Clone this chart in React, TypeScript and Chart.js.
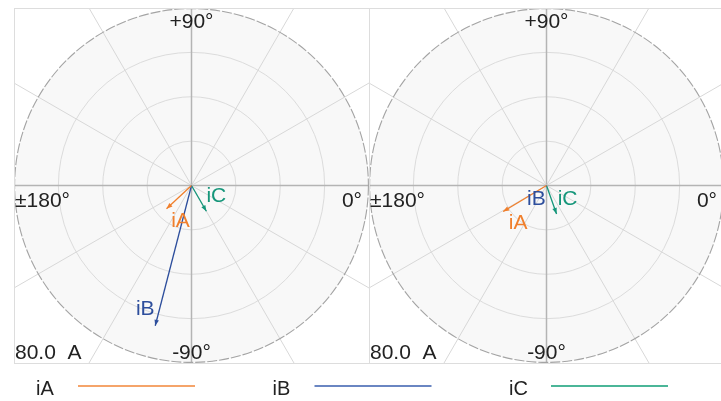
import React, { useEffect, useRef } from 'react';
import { Chart, registerables } from 'chart.js';

Chart.register(...registerables);

// ---- data ----
const phases = ['iA', 'iB', 'iC'];
const leftMagnitudes = [15.4, 65.3, 13.4];
const leftAngles = [-137, -104.5, -60];
const rightMagnitudes = [22.8, 0.4, 13.6];
const rightAngles = [-149, -100, -70.5];
const ringValues = [20, 40, 60, 80];
const spokeAngles = [0, 30, 60, 90, 120, 150, 180, 210, 240, 270, 300, 330];
const angleTickLabels = ['0°', '+90°', '±180°', '-90°'];
const rangeLabel = '80.0  A';
const vectorColors = ['#f07f2c', '#2d4e9c', '#15967a'];
const legendColors = ['#f5a46a', '#6a86c2', '#4bb698'];

const W = 721;
const H = 401;
const PAD_L = 14;
const PAD_T = 8;
const PAD_B = 38;
const MAX_R = ringValues[ringValues.length - 1];
const PLOT_OFFSETS = [0, 2 * MAX_R];
const FONT = "'Liberation Sans', Arial, sans-serif";

// label nudges (pixels) relative to each vector tip: [plot][phase]
const labelNudges = [
  [[14, 12], [-10, -17], [10, -15]],
  [[15, 12], [-10, 13], [11, -15]],
];

const plots = [
  { mags: leftMagnitudes, angs: leftAngles },
  { mags: rightMagnitudes, angs: rightAngles },
];

const rad = (d: number) => (d * Math.PI) / 180;

const phasorPlugin = {
  id: 'phasorGrid',
  beforeDatasetsDraw(chart: any) {
    const { ctx } = chart;
    const xs = chart.scales.x;
    const ys = chart.scales.y;
    PLOT_OFFSETS.forEach((off) => {
      const cx = xs.getPixelForValue(off);
      const cy = ys.getPixelForValue(0);
      const R = ys.getPixelForValue(0) - ys.getPixelForValue(MAX_R);
      ctx.save();
      ctx.beginPath();
      ctx.rect(cx - R, cy - R, 2 * R, 2 * R);
      ctx.clip();
      // background disc
      ctx.beginPath();
      ctx.arc(cx, cy, R, 0, Math.PI * 2);
      ctx.fillStyle = '#f8f8f8';
      ctx.fill();
      // rings
      ctx.strokeStyle = '#dcdcdc';
      ctx.lineWidth = 1;
      ringValues.slice(0, -1).forEach((v) => {
        const r = ys.getPixelForValue(0) - ys.getPixelForValue(v);
        ctx.beginPath();
        ctx.arc(cx, cy, r, 0, Math.PI * 2);
        ctx.stroke();
      });
      // spokes
      spokeAngles.forEach((a) => {
        const isAxis = a % 90 === 0;
        ctx.strokeStyle = isAxis ? '#b4b4b4' : '#d8d8d8';
        ctx.lineWidth = isAxis ? 1.5 : 1;
        ctx.beginPath();
        ctx.moveTo(cx, cy);
        ctx.lineTo(cx + Math.cos(rad(a)) * R * 2, cy - Math.sin(rad(a)) * R * 2);
        ctx.stroke();
      });
      // outer circle
      ctx.setLineDash([10, 2]);
      ctx.strokeStyle = '#a4a4a4';
      ctx.lineWidth = 1.1;
      ctx.beginPath();
      ctx.arc(cx, cy, R - 0.6, 0, Math.PI * 2);
      ctx.stroke();
      ctx.setLineDash([]);
      ctx.restore();
      // box
      ctx.save();
      ctx.strokeStyle = '#dddddd';
      ctx.lineWidth = 1;
      ctx.strokeRect(Math.round(cx - R) + 0.5, Math.round(cy - R) + 0.5, Math.round(2 * R), Math.round(2 * R));
      // angle labels
      ctx.fillStyle = '#222';
      ctx.font = `21px ${FONT}`;
      ctx.textBaseline = 'alphabetic';
      ctx.textAlign = 'center';
      ctx.fillText(angleTickLabels[1], cx, cy - R + 19.5);
      ctx.fillText(angleTickLabels[3], cx, cy + R - 4.5);
      ctx.textAlign = 'left';
      ctx.fillText(angleTickLabels[2], cx - R + 1, cy + 21);
      ctx.fillText(rangeLabel, cx - R + 1, cy + R - 4.5);
      ctx.textAlign = 'right';
      ctx.fillText(angleTickLabels[0], cx + R - 7, cy + 21);
      ctx.restore();
    });
  },
  afterDatasetsDraw(chart: any) {
    const { ctx } = chart;
    let k = 0;
    plots.forEach((_, p) => {
      phases.forEach((name, i) => {
        const meta = chart.getDatasetMeta(k++);
        const o = meta.data[0];
        const t = meta.data[1];
        const dx = t.x - o.x;
        const dy = t.y - o.y;
        const len = Math.hypot(dx, dy);
        ctx.save();
        if (len > 4) {
          const ux = dx / len;
          const uy = dy / len;
          const L = 6;
          const hw = 2.3;
          ctx.fillStyle = vectorColors[i];
          ctx.beginPath();
          ctx.moveTo(t.x, t.y);
          ctx.lineTo(t.x - ux * L - uy * hw, t.y - uy * L + ux * hw);
          ctx.lineTo(t.x - ux * L + uy * hw, t.y - uy * L - ux * hw);
          ctx.closePath();
          ctx.fill();
        }
        const [nx, ny] = labelNudges[p][i];
        ctx.fillStyle = vectorColors[i];
        ctx.font = `21px ${FONT}`;
        ctx.textAlign = 'center';
        ctx.textBaseline = 'middle';
        ctx.fillText(name, t.x + nx, t.y + ny);
        ctx.restore();
      });
    });
  },
  afterDraw(chart: any) {
    const { ctx } = chart;
    ctx.save();
    phases.forEach((name, i) => {
      const x0 = 36 + i * 236.5;
      const ly = 386;
      ctx.fillStyle = '#222';
      ctx.font = `20px ${FONT}`;
      ctx.textAlign = 'left';
      ctx.textBaseline = 'middle';
      ctx.fillText(name, x0, ly + 3);
      ctx.strokeStyle = legendColors[i];
      ctx.lineWidth = 2;
      ctx.beginPath();
      ctx.moveTo(x0 + 42, ly);
      ctx.lineTo(x0 + 159, ly);
      ctx.stroke();
    });
    ctx.restore();
  },
};

export default function App() {
  const ref = useRef<HTMLCanvasElement | null>(null);
  useEffect(() => {
    if (!ref.current) return;
    const datasets: any[] = [];
    plots.forEach((pl, p) => {
      const off = PLOT_OFFSETS[p];
      phases.forEach((name, i) => {
        const m = pl.mags[i];
        const a = rad(pl.angs[i]);
        datasets.push({
          label: name,
          data: [
            { x: off, y: 0 },
            { x: off + m * Math.cos(a), y: m * Math.sin(a) },
          ],
          showLine: true,
          borderColor: vectorColors[i],
          backgroundColor: vectorColors[i],
          borderWidth: 1.3,
          pointRadius: 0,
          pointHoverRadius: 0,
        });
      });
    });
    const unitsPerPx = (2 * MAX_R) / (H - PAD_T - PAD_B);
    const chart = new Chart(ref.current, {
      type: 'scatter',
      data: { datasets },
      options: {
        responsive: false,
        animation: false,
        events: [],
        layout: { padding: { left: PAD_L, top: PAD_T, bottom: PAD_B, right: 0 } },
        plugins: { legend: { display: false }, tooltip: { enabled: false } },
        scales: {
          x: { type: 'linear', display: false, min: -MAX_R, max: -MAX_R + (W - PAD_L) * unitsPerPx },
          y: { type: 'linear', display: false, min: -MAX_R, max: MAX_R },
        },
      },
      plugins: [phasorPlugin],
    } as any);
    return () => chart.destroy();
  }, []);
  return (
    <div style={{ position: 'fixed', left: 0, top: 0, width: W, height: H, overflow: 'hidden', background: '#fff' }}>
      <canvas ref={ref} width={W} height={H} style={{ width: W, height: H, display: 'block' }} />
    </div>
  );
}
